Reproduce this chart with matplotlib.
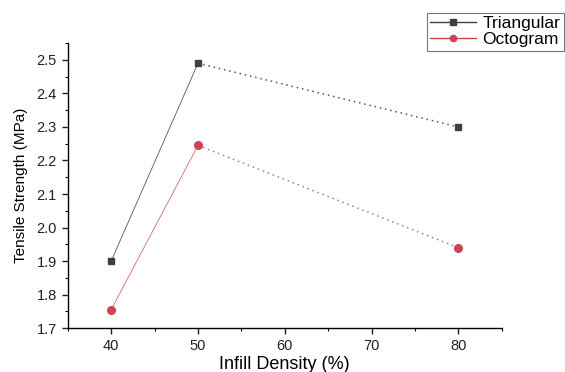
import matplotlib
matplotlib.use("Agg")
import matplotlib.pyplot as plt
from matplotlib.ticker import MultipleLocator

plt.rcParams['font.family'] = ['Liberation Sans', 'DejaVu Sans']

# data
infill = [40, 50, 80]
triangular = [1.90, 2.49, 2.30]
octogram = [1.755, 2.245, 1.94]

tri_color = "#3f3f3f"
oct_color = "#cc4452"

fig = plt.figure(figsize=(5.65, 3.72), dpi=100)
ax = fig.add_axes([0.120, 0.118, 0.768, 0.766])

# solid segment 40-50, dotted 50-80 (as in the original)
ax.plot(infill[:2], triangular[:2], color='#555555', lw=0.6, ls='-')
ax.plot(infill[1:], triangular[1:], color='#555555', lw=1.1, ls=(0, (1, 2.5)))
ax.plot(infill[:2], octogram[:2], color='#d06a72', lw=0.6, ls='-')
ax.plot(infill[1:], octogram[1:], color='#888888', lw=1.1, ls=(0, (1, 2.5)))
ax.plot(infill, triangular, ls='none', marker='s', ms=5, color=tri_color)
ax.plot(infill, octogram, ls='none', marker='o', ms=5.5, color=oct_color)

# legend proxies
h1, = ax.plot([], [], color=tri_color, lw=1.0, marker='s', ms=4, label='Triangular')
h2, = ax.plot([], [], color=oct_color, lw=1.0, marker='o', ms=4.5, label='Octogram')
leg = fig.legend(handles=[h1, h2], loc='upper right', bbox_to_anchor=(0.998, 0.966),
                 fontsize=12.5, frameon=True, fancybox=False, edgecolor='#555555',
                 handlelength=2.6, handletextpad=0.4, borderpad=0.2,
                 labelspacing=0.05, borderaxespad=0.0)
leg.get_frame().set_linewidth(0.8)

ax.set_xlim(35, 85)
ax.set_ylim(1.7, 2.55)
ax.xaxis.set_major_locator(MultipleLocator(10))
ax.xaxis.set_minor_locator(MultipleLocator(5))
ax.yaxis.set_major_locator(MultipleLocator(0.1))
ax.yaxis.set_minor_locator(MultipleLocator(0.05))
ax.set_xticks([40, 50, 60, 70, 80])

for s in ['top', 'right']:
    ax.spines[s].set_visible(False)
for s in ['left', 'bottom']:
    ax.spines[s].set_linewidth(1.0)
ax.tick_params(which='major', direction='out', length=4.5, width=1.0, labelsize=10.5, colors='#222222')
ax.tick_params(which='minor', direction='out', length=2.5, width=0.8)

ax.set_xlabel('Infill Density (%)', fontsize=13, labelpad=2)
ax.set_ylabel('Tensile Strength (MPa)', fontsize=11, labelpad=6)

fig.savefig('out.png', dpi=100)
